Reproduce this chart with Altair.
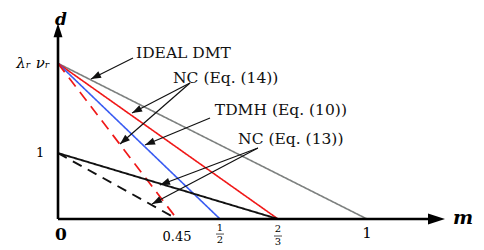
import math
import numpy as np
import pandas as pd
import altair as alt

# ---------------- data ----------------
L = 2.36  # level of lambda_r nu_r on the d axis (schematic)

# schematic (non-linear) m axis as drawn in the original
x_domain = [0, 0.45, 0.5, 2 / 3, 1, 1.3]
x_range = [50, 169, 212, 270, 359, 437]
y_domain = [0, 3.2]
y_range = [211, 0]

series_names = ["ideal", "nc14", "tdmh", "nc14d", "nc13", "nc13d"]
series_start = [L, L, L, L, 1, 1]
series_end = [1, 2 / 3, 0.5, 0.45, 2 / 3, 0.45]
series_color = ["#7d807f", "#f01818", "#3a5cf2", "#f01818", "#111111", "#111111"]
series_dash = [[1, 0], [1, 0], [1, 0], [11, 7], [1, 0], [10, 7]]
series_width = [1.6, 1.6, 1.6, 1.7, 1.9, 1.9]

ann_text = ["IDEAL DMT", "NC (Eq. (14))", "TDMH (Eq. (10))", "NC (Eq. (13))"]
ann_m = [0.295, 0.435, 0.494, 0.552]
ann_d = [2.517, 2.138, 1.653, 1.213]

arrow_tail_m = [0.2836, 0.4651, 0.4651, 0.4884, 0.609, 0.609]
arrow_tail_d = [2.442, 2.062, 2.062, 1.532, 1.077, 1.077]
arrow_tip_m = [0.1248, 0.280, 0.2345, 0.329, 0.3857, 0.3555]
arrow_tip_d = [2.123, 1.608, 1.137, 1.122, 0.516, 0.227]

axis_x_end = 1.3
axis_y_end = 2.97

xtick_m = [0.45, 1]
xtick_text = ["0.45", "1"]
xtick_d = [-0.27, -0.215]
xtick_size = [13, 15]

frac_m = [0.5, 2 / 3]
frac_num = ["1", "2"]
frac_den = ["2", "3"]
frac_num_d = [-0.136, -0.152]
frac_bar_d = [-0.228, -0.258]
frac_den_d = [-0.319, -0.349]

# ---------------- helpers ----------------
def px(m):
    return float(np.interp(m, x_domain, x_range))

def py(d):
    return y_range[0] + (d - y_domain[0]) * (y_range[1] - y_range[0]) / (y_domain[1] - y_domain[0])

X = lambda f="m": alt.X(f"{f}:Q", scale=alt.Scale(domain=x_domain, range=x_range, nice=False, zero=False), axis=None)
Y = lambda f="d": alt.Y(f"{f}:Q", scale=alt.Scale(domain=y_domain, range=y_range, nice=False, zero=False), axis=None)

SERIF = "DejaVu Serif"
ARROW = "M0,0L-1,-0.36L-1,0.36Z"

layers = []

# curves
for name, s, e, c, dsh, w in zip(series_names, series_start, series_end, series_color, series_dash, series_width):
    df = pd.DataFrame({"m": [0, e], "d": [s, 0], "o": [0, 1]})
    layers.append(
        alt.Chart(df).mark_line(color=c, strokeDash=dsh, strokeWidth=w, clip=False)
        .encode(x=X(), y=Y(), order="o:Q")
    )

# axes
axes_df = pd.DataFrame({"m": [0, 0], "d": [0, 0], "m2": [axis_x_end - 0.04, 0], "d2": [0, axis_y_end - 0.15]})
layers.append(
    alt.Chart(axes_df).mark_rule(color="black", strokeWidth=2.6)
    .encode(x=X(), y=Y(), x2="m2:Q", y2="d2:Q")
)
axhead_df = pd.DataFrame({"m": [axis_x_end, 0], "d": [0, axis_y_end], "ang": [0, 270], "sz": [17 ** 2 * 4, 14 ** 2 * 4]})
layers.append(
    alt.Chart(axhead_df).mark_point(shape="M0,0L-1,-0.32L-1,0.32Z", filled=True, color="black", opacity=1, strokeWidth=0)
    .encode(x=X(), y=Y(), angle=alt.Angle("ang:Q", scale=None), size=alt.Size("sz:Q", scale=None))
)

# annotation arrows
ar = pd.DataFrame({"m": arrow_tail_m, "d": arrow_tail_d, "m2": arrow_tip_m, "d2": arrow_tip_d})
ar["ang"] = [
    math.degrees(math.atan2(py(d2) - py(d1), px(m2) - px(m1))) % 360
    for m1, d1, m2, d2 in zip(arrow_tail_m, arrow_tail_d, arrow_tip_m, arrow_tip_d)
]
layers.append(
    alt.Chart(ar).mark_rule(color="#111111", strokeWidth=1.2)
    .encode(x=X(), y=Y(), x2="m2:Q", y2="d2:Q")
)
layers.append(
    alt.Chart(ar).mark_point(shape=ARROW, filled=True, color="#111111", opacity=1, strokeWidth=0, size=400)
    .encode(x=X("m2"), y=Y("d2"), angle=alt.Angle("ang:Q", scale=None))
)

# annotation texts
ann_df = pd.DataFrame({"m": ann_m, "d": ann_d, "t": ann_text})
layers.append(
    alt.Chart(ann_df).mark_text(font=SERIF, fontSize=15.5, align="left", baseline="middle", color="#111111")
    .encode(x=X(), y=Y(), text="t:N")
)

# axis titles
layers.append(
    alt.Chart(pd.DataFrame({"m": [0.011], "d": [3.02], "t": ["d"]}))
    .mark_text(font=SERIF, fontSize=17, fontStyle="italic", fontWeight="bold", align="center", baseline="middle")
    .encode(x=X(), y=Y(), text="t:N")
)
layers.append(
    alt.Chart(pd.DataFrame({"m": [1.369], "d": [0.02], "t": ["m"]}))
    .mark_text(font=SERIF, fontSize=19, fontStyle="italic", fontWeight="bold", align="center", baseline="middle")
    .encode(x=X(), y=Y(), text="t:N")
)

# y tick labels
layers.append(
    alt.Chart(pd.DataFrame({"m": [-0.03], "d": [L], "t": ["λᵣ νᵣ"]}))
    .mark_text(font=SERIF, fontSize=15, fontStyle="italic", align="right", baseline="middle")
    .encode(x=X(), y=Y(), text="t:N")
)
layers.append(
    alt.Chart(pd.DataFrame({"m": [-0.068], "d": [1], "t": ["1"]}))
    .mark_text(font=SERIF, fontSize=13, align="center", baseline="middle")
    .encode(x=X(), y=Y(), text="t:N")
)

# x tick labels
layers.append(
    alt.Chart(pd.DataFrame({"m": [0.011], "d": [-0.245], "t": ["0"]}))
    .mark_text(font=SERIF, fontSize=17, fontWeight="bold", align="center", baseline="middle")
    .encode(x=X(), y=Y(), text="t:N")
)
layers.append(
    alt.Chart(pd.DataFrame({"m": xtick_m, "d": xtick_d, "t": xtick_text, "fs": xtick_size}))
    .mark_text(font=SERIF, align="center", baseline="middle")
    .encode(x=X(), y=Y(), text="t:N", size=alt.Size("fs:Q", scale=None))
)
frac_df = pd.DataFrame({"m": frac_m, "num": frac_num, "den": frac_den,
                        "dn": frac_num_d, "db": frac_bar_d, "dd": frac_den_d})
layers.append(
    alt.Chart(frac_df).mark_text(font=SERIF, fontSize=10, align="center", baseline="middle")
    .encode(x=X(), y=Y("dn"), text="num:N")
)
layers.append(
    alt.Chart(frac_df).mark_text(font=SERIF, fontSize=10, align="center", baseline="middle")
    .encode(x=X(), y=Y("dd"), text="den:N")
)
layers.append(
    alt.Chart(frac_df).mark_tick(orient="horizontal", color="black", thickness=1, size=8)
    .encode(x=X(), y=Y("db"))
)

chart = (
    alt.layer(*layers)
    .properties(width=468, height=242, autosize=alt.AutoSizeParams(type="none"), padding=0)
    .configure_view(stroke=None)
)

chart.save("out.html", embed_options={"renderer": "svg", "actions": False})
